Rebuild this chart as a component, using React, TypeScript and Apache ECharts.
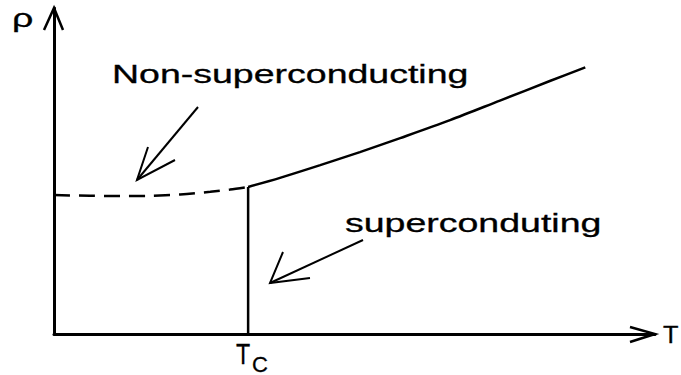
import React, { useEffect, useRef } from "react";
import * as echarts from "echarts";

// Resistivity vs temperature (normalised units)
const dashedT = [0, 6.0, 11.0, 16.0, 21.0, 26.0, 29.3, 32.3];
const dashedRho = [42.6, 42.4, 42.3, 42.4, 42.8, 43.6, 44.3, 45.1];
const solidT = [32.3, 37.6, 44.3, 50.9, 57.6, 65.9, 74.2, 82.5, 88.4];
const solidRho = [45.1, 47.9, 51.8, 55.8, 60.1, 65.6, 71.6, 77.6, 81.8];
const tcValue = 32.3;
const tcRho = 45.1;

const labelNormal = "Non-superconducting";
const labelSuper = "superconduting";

export default function App() {
  const ref = useRef<HTMLDivElement>(null);
  useEffect(() => {
    if (!ref.current) return;
    const chart = echarts.init(ref.current, undefined, { renderer: "svg" });
    const font = "Liberation Sans, Arial, sans-serif";
    const txt = (x: number, y: number, text: string, size: number, sx: number) => ({
      type: "text",
      x,
      y,
      scaleX: sx,
      style: {
        text,
        x: 0,
        y: 0,
        fill: "#000",
        stroke: "#000",
        lineWidth: 0.3,
        font: `${size}px ${font}`,
        textAlign: "left",
        textVerticalAlign: "middle",
      },
    });
    const ln = (pts: number[][], w = 2) => ({
      type: "polyline",
      shape: { points: pts },
      style: { stroke: "#000", lineWidth: w, fill: "none" },
    });
    chart.setOption({
      animation: false,
      backgroundColor: "#fff",
      grid: { left: 54, top: 8, right: 26, bottom: 41 },
      xAxis: {
        type: "value",
        min: 0,
        max: 100,
        axisLine: { show: true, onZero: false, lineStyle: { color: "#000", width: 3 } },
        axisTick: { show: false },
        axisLabel: { show: false },
        splitLine: { show: false },
      },
      yAxis: {
        type: "value",
        min: 0,
        max: 100,
        axisLine: { show: true, onZero: false, lineStyle: { color: "#000", width: 3 } },
        axisTick: { show: false },
        axisLabel: { show: false },
        splitLine: { show: false },
      },
      series: [
        {
          type: "line",
          data: dashedT.map((t, i) => [t, dashedRho[i]]),
          smooth: 0.3,
          symbol: "none",
          lineStyle: { color: "#000", width: 2.5, type: [16, 9] },
        },
        {
          type: "line",
          data: solidT.map((t, i) => [t, solidRho[i]]),
          smooth: 0.3,
          symbol: "none",
          lineStyle: { color: "#000", width: 2.5 },
        },
        {
          type: "line",
          data: [
            [tcValue, 0],
            [tcValue, tcRho],
          ],
          symbol: "none",
          lineStyle: { color: "#000", width: 2.5 },
        },
      ],
      graphic: [
        ln([[44, 30], [54, 8], [63, 30]], 2.5),
        ln([[630, 327], [655, 334], [630, 342]], 2.5),
        ln([[198, 107], [137, 180]]),
        ln([[148, 147], [137, 180], [175, 160]]),
        ln([[363, 240], [270, 283]]),
        ln([[283, 252], [270, 283], [310, 278]]),
        txt(112, 74, labelNormal, 25, 1.5),
        txt(345, 223, labelSuper, 25, 1.5),
        txt(12, 18, "ρ", 25, 1.5),
        txt(663, 335, "T", 23, 1.1),
        txt(236, 354, "T", 29, 0.8),
        txt(252, 364, "C", 22, 1),
      ],
    });
    return () => chart.dispose();
  }, []);
  return (
    <div
      ref={ref}
      style={{ position: "absolute", left: 0, top: 0, width: 681, height: 375, background: "#fff" }}
    />
  );
}
